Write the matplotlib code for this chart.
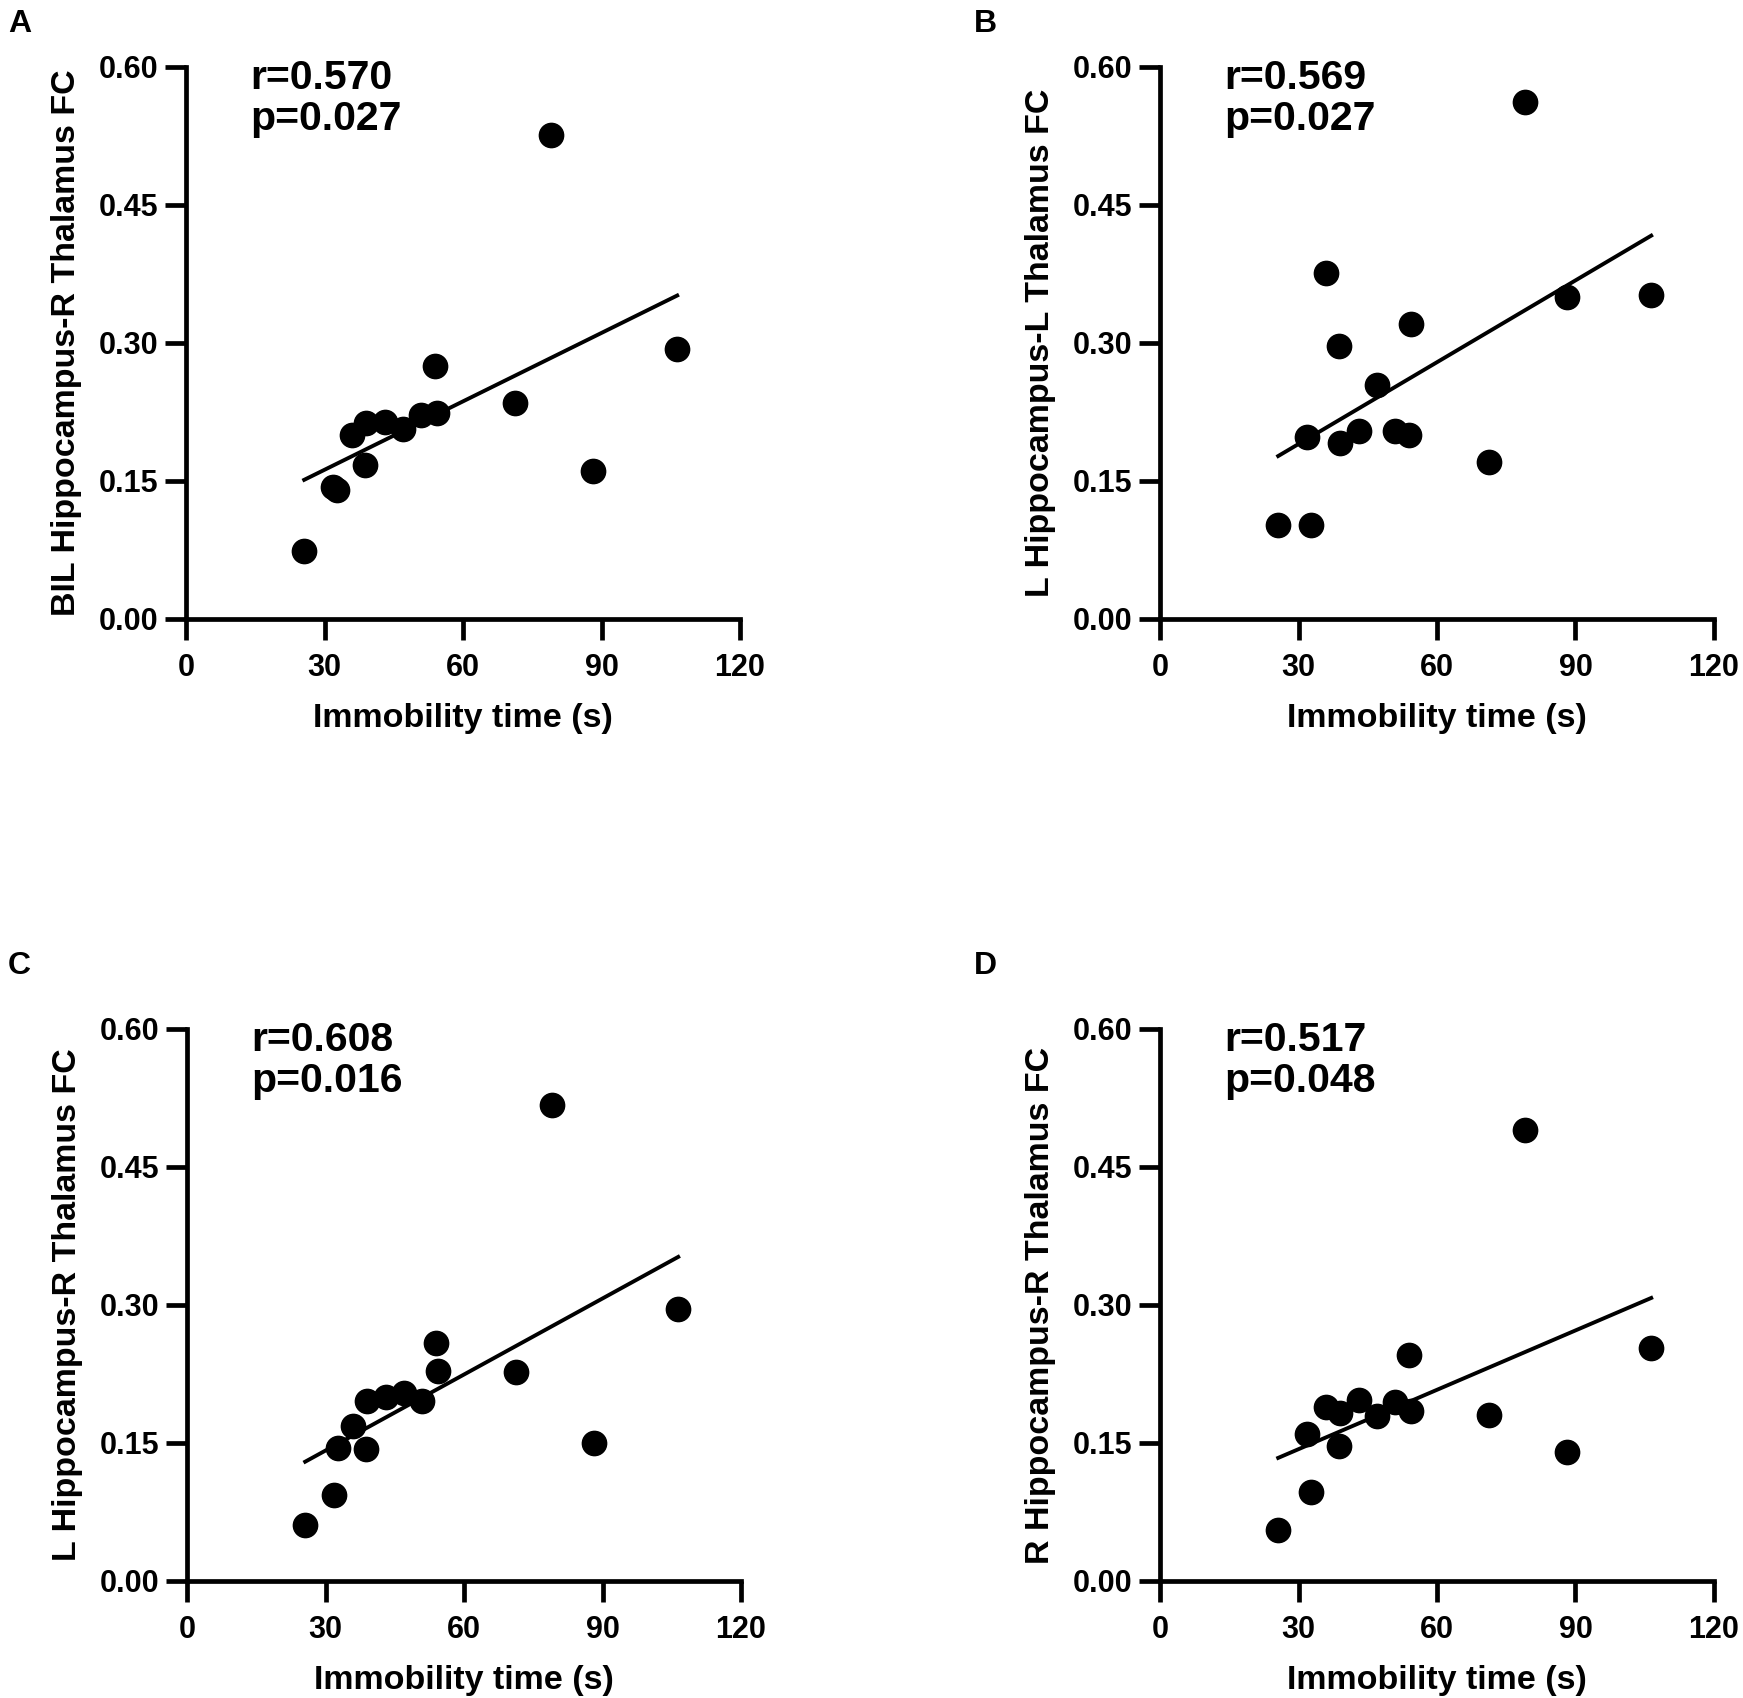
import matplotlib.pyplot as plt
import numpy as np

plt.rcParams['font.family'] = ['Liberation Sans', 'DejaVu Sans']
plt.rcParams['font.weight'] = 'bold'

# immobility time (s), same animals in every panel
immobility = [25.6, 31.8, 32.7, 35.9, 38.7, 39.0, 43.0, 47.0, 50.9, 54.0, 54.3, 71.2, 79.0, 88.1, 106.4]

# functional connectivity values per panel
fc_a = [0.074, 0.144, 0.140, 0.200, 0.167, 0.2125, 0.214, 0.207, 0.222, 0.275, 0.224, 0.235, 0.526, 0.161, 0.293]
fc_b = [0.102, 0.1975, 0.102, 0.376, 0.2965, 0.191, 0.204, 0.254, 0.2046, 0.200, 0.321, 0.171, 0.5616, 0.350, 0.352]
fc_c = [0.061, 0.093, 0.145, 0.168, 0.144, 0.196, 0.200, 0.204, 0.196, 0.259, 0.2285, 0.227, 0.517, 0.150, 0.296]
fc_d = [0.0555, 0.160, 0.097, 0.189, 0.147, 0.183, 0.197, 0.179, 0.195, 0.246, 0.185, 0.180, 0.490, 0.140, 0.2535]

panel_letters = ['A', 'B', 'C', 'D']
ylabels = ['BIL Hippocampus-R Thalamus FC', 'L Hippocampus-L Thalamus FC',
           'L Hippocampus-R Thalamus FC', 'R Hippocampus-R Thalamus FC']
r_texts = ['r=0.570', 'r=0.569', 'r=0.608', 'r=0.517']
p_texts = ['p=0.027', 'p=0.027', 'p=0.016', 'p=0.048']
xticks = [0, 30, 60, 90, 120]
yticks = [0.00, 0.15, 0.30, 0.45, 0.60]

W, H = 1743, 1698
fig = plt.figure(figsize=(W / 100, H / 100), dpi=100)

# axes corners in pixels (left of x=0, bottom of y=0)
lefts = [186, 1160, 187, 1160]
bottoms = [619, 619, 1581, 1581]
aw, ah = 554, 552
letter_pos = [(8, 9), (974, 9), (8, 951), (974, 951)]

for i, fc in enumerate([fc_a, fc_b, fc_c, fc_d]):
    ax = fig.add_axes([lefts[i] / W, 1 - bottoms[i] / H, aw / W, ah / H])
    ax.scatter(immobility, fc, s=17.5 ** 2, color='black', zorder=3, clip_on=False)
    k, b = np.polyfit(immobility, fc, 1)
    xs = np.array([min(immobility), max(immobility)])
    ax.plot(xs, k * xs + b, color='black', lw=2.8)

    ax.set_xlim(0, 120)
    ax.set_ylim(0, 0.60)
    ax.set_xticks(xticks)
    ax.set_yticks(yticks)
    ax.set_yticklabels([f'{v:.2f}' for v in yticks])
    for s in ['top', 'right']:
        ax.spines[s].set_visible(False)
    for s in ['left', 'bottom']:
        ax.spines[s].set_linewidth(3.4)
    ax.tick_params(width=3.4, length=15, labelsize=22)
    ax.tick_params(axis='x', pad=9.5)
    ax.tick_params(axis='y', pad=5)

    ax.set_xlabel('Immobility time (s)', fontsize=24.5, fontweight='bold', va='center')
    ax.xaxis.set_label_coords(0.5, -0.18)
    ax.set_ylabel(ylabels[i], fontsize=24.5, fontweight='bold', va='center')
    ax.yaxis.set_label_coords(-0.215, 0.5)

    ax.text(14, 0.588, r_texts[i], fontsize=29.5, fontweight='bold', va='center', ha='left')
    ax.text(14, 0.544, p_texts[i], fontsize=29.5, fontweight='bold', va='center', ha='left')

    lx, ly = letter_pos[i]
    fig.text(lx / W, 1 - ly / H, panel_letters[i], fontsize=23, fontweight='bold', va='top', ha='left')

fig.savefig('out.png', dpi=100, facecolor='white')
